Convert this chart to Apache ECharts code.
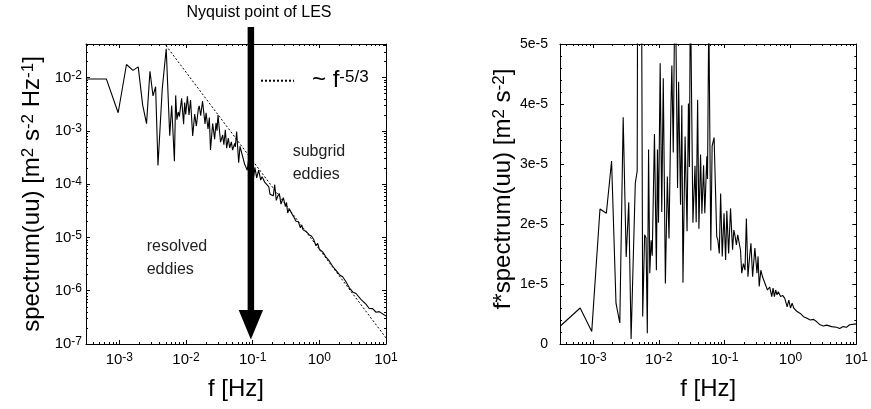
<!DOCTYPE html>
<html><head><meta charset="utf-8">
<script src="https://cdn.jsdelivr.net/npm/echarts@6/dist/echarts.min.js"></script>
<style>html,body{margin:0;padding:0;background:#fff}#c{width:871px;height:409px}</style>
</head><body><div id="c"></div>
<script>
// ---- data ----
const freqHz = [
  3.2e-4, 6.4e-4, 9.6e-4, 1.28e-3, 1.6e-3, 1.92e-3, 2.24e-3, 2.56e-3, 2.88e-3, 3.2e-3,
  3.5e-3, 3.8e-3, 4.4e-3, 4.7e-3, 5.05e-3, 5.7e-3, 6.1e-3, 6.4e-3, 6.7e-3, 7.0e-3,
  7.3e-3, 7.65e-3, 7.95e-3, 8.6e-3, 9.2e-3, 9.55e-3, 9.9e-3, 1.05e-2, 1.11e-2, 1.17e-2,
  1.26e-2, 1.35e-2, 1.43e-2, 1.53e-2, 1.58e-2, 1.66e-2, 1.77e-2, 1.93e-2, 2.0e-2, 2.14e-2,
  2.24e-2, 2.33e-2, 2.51e-2, 2.69e-2, 2.82e-2, 2.92e-2, 3.02e-2, 3.3e-2, 3.55e-2, 3.7e-2,
  3.89e-2, 4.07e-2, 4.31e-2, 4.52e-2, 4.79e-2, 5.0e-2, 5.37e-2, 5.5e-2, 5.75e-2, 6.17e-2,
  6.46e-2, 6.92e-2, 7.59e-2, 7.9e-2, 8.3e-2, 8.7e-2, 9.2e-2, 9.8e-2, 0.1035, 0.108,
  0.115, 0.123, 0.132, 0.138, 0.144, 0.151, 0.158, 0.174, 0.182, 0.193,
  0.204, 0.214, 0.226, 0.237, 0.251, 0.266, 0.288, 0.31, 0.322, 0.335,
  0.355, 0.376, 0.42, 0.447, 0.484, 0.52, 0.544, 0.57, 0.596, 0.625,
  0.653, 0.708, 0.76, 0.82, 0.89, 0.944, 1.0, 1.06, 1.12, 1.26,
  1.41, 1.58, 1.78, 2.0, 2.24, 2.51, 2.82, 3.16, 3.55, 4.2,
  5.0, 5.6, 6.3, 7.1, 7.9, 10
];
// f * spectrum(uu) [m^2 s^-2]
const fTimesSpectrum = [
  3.0e-6, 6.0e-6, 2.1e-6, 22.5e-6, 21.8e-6, 30.5e-6, 6.8e-6, 3.5e-6, 37.8e-6, 14.5e-6,
  23.6e-6, 0.85e-6, 26.8e-6, 28.8e-6, 175e-6, 4.6e-6, 18.2e-6, 17.7e-6, 1.8e-6, 32.4e-6,
  11.8e-6, 17.3e-6, 14.7e-6, 35e-6, 12.3e-6, 32.4e-6, 20.2e-6, 46.8e-6, 22e-6, 44.3e-6,
  10.1e-6, 27.9e-6, 17.6e-6, 39.6e-6, 46.4e-6, 31.9e-6, 64e-6, 26e-6, 43.7e-6, 23.2e-6,
  39.8e-6, 10.2e-6, 34.6e-6, 18.8e-6, 40.1e-6, 29.5e-6, 60e-6, 20.2e-6, 29.7e-6, 20.3e-6,
  40.7e-6, 19.2e-6, 31.6e-6, 21.7e-6, 29.8e-6, 21.8e-6, 31.3e-6, 27.5e-6, 56e-6, 15.6e-6,
  33e-6, 34.4e-6, 17.9e-6, 17.3e-6, 15.1e-6, 25.1e-6, 14.6e-6, 21.8e-6, 14e-6, 22.2e-6,
  15.1e-6, 22.6e-6, 15.7e-6, 19e-6, 18e-6, 16.5e-6, 18.2e-6, 15.7e-6, 11.8e-6, 13.4e-6,
  12.3e-6, 20.9e-6, 11.2e-6, 14e-6, 16.8e-6, 11.2e-6, 16e-6, 11.8e-6, 14.6e-6, 9.6e-6,
  12.3e-6, 11.2e-6, 9.8e-6, 9.0e-6, 9.5e-6, 7.9e-6, 9.3e-6, 7.9e-6, 9.0e-6, 8.2e-6,
  8.7e-6, 7.9e-6, 8.1e-6, 7.6e-6, 6.2e-6, 7.3e-6, 6.0e-6, 6.8e-6, 6.0e-6, 5.4e-6,
  5.1e-6, 4.55e-6, 4.3e-6, 4.0e-6, 4.1e-6, 3.7e-6, 3.2e-6, 3.0e-6, 3.15e-6, 2.9e-6,
  2.8e-6, 2.6e-6, 2.9e-6, 2.8e-6, 3.2e-6, 3.35e-6
];
// ~ f^-5/3 reference line end points
const slopeFreq = [0.005, 10];
const slopeSpectrum = [0.04, 1.3e-7];
const nyquistFreq = 0.094;

// ---- axes / tick labels ----
const xMajorExps = [-3, -2, -1, 0, 1];
const xRangeExp = [-3.5, 1];
const yMajorExpsLeft = [-7, -6, -5, -4, -3, -2];
const yRangeExpLeft = [-7, -1.37];
const yTicksRight = ['0', '1e-5', '2e-5', '3e-5', '4e-5', '5e-5'];
const yRangeRight = [0, 5e-5];

const FONT = 'Liberation Sans, Arial, Helvetica, sans-serif';

function minorExps(range) {
  const out = [];
  for (let n = Math.floor(range[0]) - 1; n <= Math.ceil(range[1]); n++) {
    for (let k = 2; k <= 9; k++) {
      const e = n + Math.log10(k);
      if (e > range[0] + 1e-9 && e < range[1] - 1e-9) out.push(e);
    }
  }
  return out;
}

const powRich = {
  b: { fontSize: 15, lineHeight: 16, fontFamily: FONT, color: '#000' },
  s: { fontSize: 12, lineHeight: 7, verticalAlign: 'top', fontFamily: FONT, color: '#000' }
};
const powFormatter = v => '{b|10}{s|' + Math.round(v) + '}';

const lineCol = '#000';
function logAxes(kind, gridIndex, range, majors, withName) {
  const minors = minorExps(range);
  const sides = kind === 'x' ? ['bottom', 'top'] : ['left', 'right'];
  const axes = [];
  sides.forEach((pos, si) => {
    axes.push({
      gridIndex, type: 'value', position: pos, min: range[0], max: range[1],
      axisLine: { show: true, onZero: false, lineStyle: { color: lineCol, width: 1 } },
      axisTick: { show: true, inside: true, length: 4, customValues: majors, lineStyle: { color: lineCol, width: 1 } },
      axisLabel: si === 0 ? { show: true, customValues: majors, formatter: powFormatter, rich: powRich, margin: kind === 'x' ? 8 : 4 } : { show: false },
      splitLine: { show: false },
      name: (si === 0 && withName) ? withName : '',
      nameLocation: 'middle', nameGap: 33,
      nameTextStyle: { fontSize: 24, fontFamily: FONT, color: '#000' }
    });
    axes.push({
      gridIndex, type: 'value', position: pos, min: range[0], max: range[1],
      axisLine: { show: false, onZero: false },
      axisTick: { show: true, inside: true, length: 2, customValues: minors, lineStyle: { color: lineCol, width: 1 } },
      axisLabel: { show: false }, splitLine: { show: false }
    });
  });
  return axes;
}

const xAxes = [].concat(
  logAxes('x', 0, xRangeExp, xMajorExps, 'f [Hz]'),
  logAxes('x', 1, xRangeExp, xMajorExps, 'f [Hz]')
);
const yAxes = [].concat(logAxes('y', 0, yRangeExpLeft, yMajorExpsLeft, null));
['left', 'right'].forEach((pos, si) => {
  yAxes.push({
    gridIndex: 1, type: 'value', position: pos, min: yRangeRight[0], max: yRangeRight[1], interval: 1e-5,
    axisLine: { show: true, onZero: false, lineStyle: { color: lineCol, width: 1 } },
    axisTick: { show: true, inside: true, length: 4, lineStyle: { color: lineCol } },
    minorTick: { show: true, splitNumber: 5, length: 2, lineStyle: { color: lineCol } },
    axisLabel: si === 0 ? {
      show: true, margin: 12, fontSize: 14, fontFamily: FONT, color: '#000',
      formatter: v => yTicksRight[Math.round(v / 1e-5)]
    } : { show: false },
    splitLine: { show: false }
  });
});

const leftData = freqHz.map((f, i) => [Math.log10(f), Math.log10(fTimesSpectrum[i] / f)]);
const rightData = freqHz.map((f, i) => [Math.log10(f), fTimesSpectrum[i]]);
const slopeData = slopeFreq.map((f, i) => [Math.log10(f), Math.log10(slopeSpectrum[i])]);

const supRich = (base, sup) => ({
  b: { fontSize: base, lineHeight: base, fontFamily: FONT },
  s: { fontSize: sup, lineHeight: Math.round(base * 0.58), verticalAlign: 'top', fontFamily: FONT }
});

const chart = echarts.init(document.getElementById('c'), null, { renderer: 'canvas' });
const option = {
  animation: false,
  backgroundColor: '#fff',
  grid: [
    { left: 86, top: 44, width: 300, height: 300, containLabel: false },
    { left: 560, top: 44, width: 300, height: 300, containLabel: false }
  ],
  xAxis: xAxes,
  yAxis: yAxes,
  legend: {
    data: ['slope'], left: 260, top: 68.7, padding: 0, itemWidth: 33, itemHeight: 14, selectedMode: false,
    itemStyle: { color: 'rgba(0,0,0,0)', borderColor: 'rgba(0,0,0,0)', borderWidth: 0 },
    formatter: () => '{t|~ f}{s|-5/3}',
    textStyle: {
      color: '#000',
      rich: {
        t: { fontSize: 24, lineHeight: 24, fontFamily: FONT, padding: [0, 0, 0, 13] },
        s: { fontSize: 17, lineHeight: 14, verticalAlign: 'top', fontFamily: FONT }
      }
    }
  },
  series: [
    {
      name: 'spectrum', type: 'line', xAxisIndex: 0, yAxisIndex: 0, data: leftData,
      symbol: 'none', lineStyle: { color: '#000', width: 1.1 }, z: 3
    },
    {
      name: 'slope', type: 'line', xAxisIndex: 0, yAxisIndex: 0, data: slopeData,
      symbol: 'none', itemStyle: { color: '#000' }, lineStyle: { color: '#000', width: 1, type: [2, 2] }, z: 2
    },
    {
      name: 'fspectrum', type: 'line', xAxisIndex: 4, yAxisIndex: 4, data: rightData,
      symbol: 'none', lineStyle: { color: '#000', width: 1.1 }, clip: true
    }
  ]
};
chart.setOption(option);

// annotations
const tip = chart.convertToPixel({ xAxisIndex: 0, yAxisIndex: 0 }, [Math.log10(nyquistFreq), yRangeExpLeft[0]]);
const ax = tip[0];
const headTop = 310, tipY = tip[1] - 4.5, shaftTop = 27;
chart.setOption({
  graphic: [
    { type: 'rect', shape: { x: ax - 3.25, y: shaftTop, width: 6.5, height: headTop - shaftTop + 1 }, style: { fill: '#000' }, z: 10 },
    { type: 'polygon', shape: { points: [[ax - 12.2, headTop], [ax + 12.2, headTop], [ax, tipY]] }, style: { fill: '#000' }, z: 10 },
    { type: 'text', x: 259, y: 13, style: { text: 'Nyquist point of LES', fontSize: 16, fontFamily: FONT, align: 'center', verticalAlign: 'middle', fill: '#000' } },
    { type: 'text', x: 292.7, y: 140, style: { text: 'subgrid\neddies', fontSize: 16, lineHeight: 23, fontFamily: FONT, align: 'left', verticalAlign: 'top', fill: '#222' } },
    { type: 'text', x: 146.7, y: 234.6, style: { text: 'resolved\neddies', fontSize: 16, lineHeight: 23, fontFamily: FONT, align: 'left', verticalAlign: 'top', fill: '#222' } },
    { type: 'text', x: 32, y: 194, rotation: Math.PI / 2,
      style: { text: '{b|spectrum(uu) [m}{s|2}{b| s}{s|-2}{b| Hz}{s|-1}{b|]}', rich: supRich(24, 17), align: 'center', verticalAlign: 'middle', fill: '#000' } },
    { type: 'text', x: 503, y: 189, rotation: Math.PI / 2,
      style: { text: '{b|f*spectrum(uu) [m}{s|2}{b| s}{s|-2}{b|]}', rich: supRich(24, 17), align: 'center', verticalAlign: 'middle', fill: '#000' } }
  ]
});
</script>
</body></html>
